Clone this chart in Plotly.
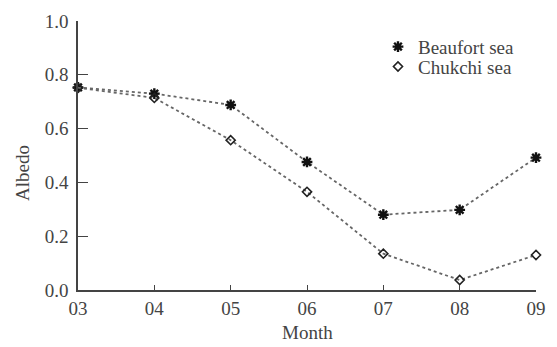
import plotly.graph_objects as go

months = [3, 4, 5, 6, 7, 8, 9]
month_labels = ["03", "04", "05", "06", "07", "08", "09"]
beaufort = [0.753, 0.730, 0.688, 0.476, 0.280, 0.298, 0.492]
chukchi = [0.752, 0.714, 0.557, 0.365, 0.135, 0.037, 0.130]
y_ticks = [0.0, 0.2, 0.4, 0.6, 0.8, 1.0]

FONT = "Liberation Serif"
FS = 19
GRAY = "#444444"

star = dict(symbol="asterisk-open", size=9, color="#111111", line=dict(width=2.4, color="#111111"))
diam = dict(symbol="diamond-open", size=7, color="#222222", line=dict(width=1.6, color="#222222"))
dotline = dict(color="#666666", width=1.8, dash="dot")

fig = go.Figure()
fig.add_trace(go.Scatter(x=months, y=beaufort, mode="lines+markers", showlegend=False,
                         line=dotline, marker=star, cliponaxis=False))
fig.add_trace(go.Scatter(x=months, y=chukchi, mode="lines+markers", showlegend=False,
                         line=dotline, marker=diam, cliponaxis=False))
# legend keys (markers only, as in the reference)
fig.add_trace(go.Scatter(x=[None], y=[None], mode="markers", name="Beaufort sea",
                         legend="legend", showlegend=True, marker=star))
fig.add_trace(go.Scatter(x=[None], y=[None], mode="markers", name="Chukchi sea",
                         legend="legend2", showlegend=True, marker=diam))

leg_common = dict(xanchor="left", yanchor="top", bgcolor="rgba(0,0,0,0)",
                  font=dict(family=FONT, size=FS, color=GRAY))

fig.update_layout(
    width=557, height=347,
    margin=dict(l=78, r=11, t=19, b=57),
    paper_bgcolor="white", plot_bgcolor="white",
    showlegend=True,
    font=dict(family=FONT, size=FS, color=GRAY),
    legend=dict(x=0.655, y=0.975, **leg_common),
    legend2=dict(x=0.655, y=0.901, **leg_common),
    xaxis=dict(range=[3, 9], tickvals=months, ticktext=month_labels,
               showgrid=False, zeroline=False, showline=True, linecolor=GRAY, linewidth=1.5,
               ticks="inside", ticklen=5, tickwidth=1.2, tickcolor=GRAY),
    yaxis=dict(range=[0, 1], tickvals=y_ticks, ticktext=[f"{v:.1f}" for v in y_ticks],
               showgrid=False, zeroline=False, showline=True, linecolor=GRAY, linewidth=1.5,
               ticks="inside", ticklen=10, tickwidth=1.2, tickcolor=GRAY,
               ticklabelstandoff=4),
    annotations=[
        dict(text="Albedo", xref="paper", yref="paper", x=-0.12, y=0.435,
             xanchor="center", yanchor="middle",
             textangle=-90, showarrow=False, font=dict(family=FONT, size=FS, color=GRAY)),
        dict(text="Month", xref="paper", yref="paper", x=0.502, y=-0.159,
             xanchor="center", yanchor="middle",
             showarrow=False, font=dict(family=FONT, size=FS, color=GRAY)),
    ],
)

fig.write_html("out.html")
